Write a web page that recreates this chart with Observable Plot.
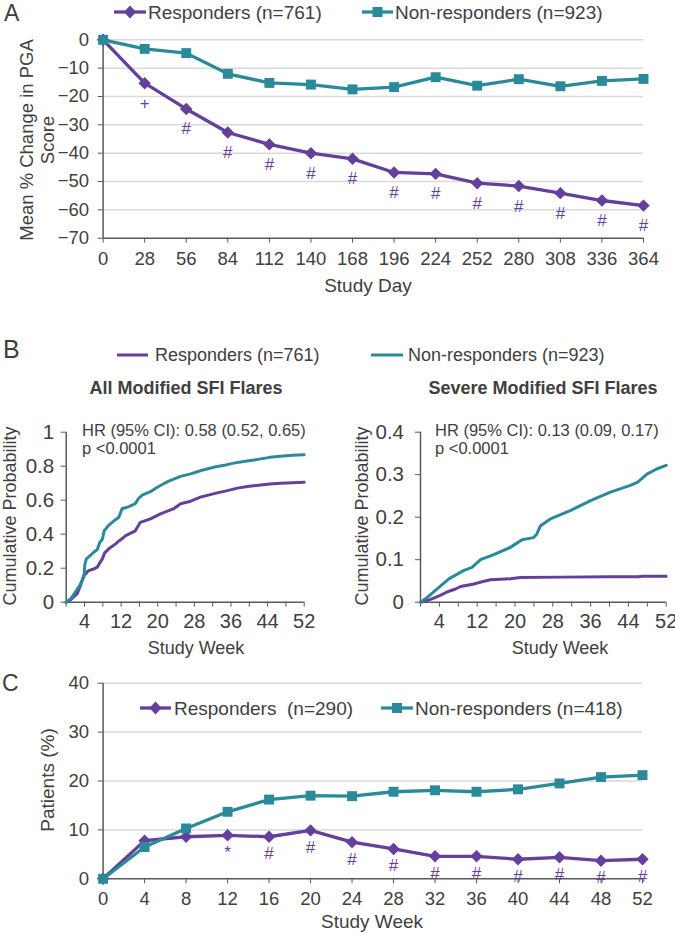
<!DOCTYPE html>
<html>
<head>
<meta charset="utf-8">
<script src="https://cdn.jsdelivr.net/npm/d3@7"></script>
<script src="https://cdn.jsdelivr.net/npm/@observablehq/plot@0.6"></script>
<style>
  html, body { margin: 0; padding: 0; background: #fff; }
  #root { position: relative; width: 675px; height: 933px; overflow: hidden; background: #fff; }
  #root > svg { position: absolute; }
</style>
</head>
<body>
<div id="root"></div>
<script>
// ---------- DATA ----------
// Panel A: mean % change in PGA score by study day
const daysA = [0, 28, 56, 84, 112, 140, 168, 196, 224, 252, 280, 308, 336, 364];
const respondersA = [0, -15.3, -24.4, -32.7, -36.9, -40.0, -42.0, -46.8, -47.3, -50.6, -51.6, -54.1, -56.7, -58.5];
const nonRespondersA = [0, -3.2, -4.7, -12.0, -15.2, -15.8, -17.5, -16.7, -13.2, -16.2, -13.9, -16.4, -14.5, -13.8];
const sigA = ["", "+", "#", "#", "#", "#", "#", "#", "#", "#", "#", "#", "#", "#"];
const yTicksA = [0, -10, -20, -30, -40, -50, -60, -70];

// Panel B: cumulative probability of flares, [week, probability]
const allFlaresResponders = [[0,0],[1,0.015],[2.4,0.05],[3.0,0.09],[3.85,0.157],[4.9,0.186],[6.0,0.195],[6.8,0.206],[7.3,0.23],[7.9,0.255],[8.4,0.29],[9.3,0.314],[10.8,0.343],[11.5,0.36],[12.2,0.373],[13,0.392],[15.1,0.42],[16.2,0.47],[18.4,0.49],[20.6,0.52],[23.5,0.55],[25,0.579],[27.2,0.594],[29.3,0.618],[33,0.643],[35,0.655],[37.4,0.671],[40,0.682],[42.5,0.69],[44.5,0.695],[46.8,0.70],[49.5,0.703],[52,0.706]];
const allFlaresNonResponders = [[0,0],[1,0.02],[2,0.06],[3,0.10],[3.9,0.15],[4.05,0.22],[4.4,0.255],[5.3,0.275],[6.0,0.294],[6.8,0.31],[7.3,0.35],[7.9,0.37],[8.3,0.42],[9.2,0.45],[10.5,0.48],[11.5,0.50],[12.2,0.55],[13.5,0.56],[15.1,0.58],[15.8,0.61],[16.6,0.63],[18.4,0.65],[19.9,0.676],[21.5,0.70],[22.8,0.716],[25,0.74],[27.2,0.755],[29.5,0.775],[32.2,0.794],[34.5,0.805],[36.6,0.818],[39.5,0.83],[42.5,0.843],[44.5,0.852],[46.8,0.859],[49.5,0.865],[52,0.868]];
const severeFlaresResponders = [[0,0],[2,0.006],[4.2,0.016],[5.6,0.024],[7.4,0.031],[8.5,0.037],[11.3,0.043],[13,0.048],[14.8,0.053],[19,0.055],[21.2,0.058],[30,0.059],[40,0.06],[46,0.06],[47,0.061],[52,0.061]];
const severeFlaresNonResponders = [[0,0],[1.5,0.012],[3.9,0.035],[6.0,0.055],[9.2,0.075],[10.9,0.082],[12.7,0.10],[15.5,0.112],[19.0,0.129],[21.5,0.147],[23.9,0.152],[24.6,0.16],[25.4,0.18],[27.5,0.196],[31.8,0.216],[36.0,0.239],[40.2,0.259],[44.4,0.275],[45.9,0.282],[48.0,0.302],[50.1,0.314],[52,0.322]];
const weekTicksB = [0, 4, 8, 12, 16, 20, 24, 28, 32, 36, 40, 44, 48, 52];
const weekLabelsB = [4, 12, 20, 28, 36, 44, 52];
const yTicksBAll = [0, 0.2, 0.4, 0.6, 0.8, 1];
const yTicksBSevere = [0, 0.1, 0.2, 0.3, 0.4];
const hrAll = ["HR (95% CI): 0.58 (0.52, 0.65)", "p <0.0001"];
const hrSevere = ["HR (95% CI): 0.13 (0.09, 0.17)", "p <0.0001"];

// Panel C: patients (%) by study week
const weeksC = [0, 4, 8, 12, 16, 20, 24, 28, 32, 36, 40, 44, 48, 52];
const respondersC = [0, 7.8, 8.6, 8.9, 8.6, 9.9, 7.5, 6.1, 4.6, 4.6, 4.0, 4.4, 3.7, 4.0];
const nonRespondersC = [0, 6.5, 10.3, 13.7, 16.2, 17.0, 16.9, 17.8, 18.1, 17.8, 18.3, 19.5, 20.8, 21.2];
const sigC = ["", "", "", "*", "#", "#", "#", "#", "#", "#", "#", "#", "#", "#"];
const yTicksC = [0, 10, 20, 30, 40];

// ---------- STYLE ----------
const PURPLE = "#643F9C";
const TEAL = "#2A8A9A";
const AXIS = "#595959";
const GRID = "#D9D9D9";
const TEXT = "#404040";
const REG = "'Liberation Sans', Arial, sans-serif";

const root = document.getElementById("root");
function place(svg, left, top) {
  svg.style.position = "absolute";
  svg.style.left = left + "px";
  svg.style.top = top + "px";
  root.appendChild(svg);
}

// ---------- PANEL A ----------
const tableA = daysA.map((d, i) => ({day: d, resp: respondersA[i], non: nonRespondersA[i], sig: sigA[i]}));
const plotA = Plot.plot({
  width: 675, height: 300,
  marginLeft: 102.6, marginRight: 32, marginTop: 39.3, marginBottom: 62.3,
  x: {domain: [0, 364]},
  y: {domain: [-70, 0]},
  style: {fontFamily: REG, fontSize: "18px", color: TEXT, background: "transparent"},
  marks: [
    Plot.gridY(yTicksA.filter(d => d > -70), {stroke: GRID, strokeOpacity: 1, strokeWidth: 1.5}),
    Plot.ruleX([0], {stroke: AXIS, strokeWidth: 1.5}),
    Plot.ruleY([-70], {stroke: AXIS, strokeWidth: 1.5}),
    Plot.axisY(yTicksA, {tickSize: 5, tickPadding: 9, label: null, stroke: AXIS, fontSize: 18.5}),
    Plot.axisX(daysA, {tickSize: 5, tickPadding: 9, label: null, stroke: AXIS, fontSize: 18.5}),
    Plot.line(tableA, {x: "day", y: "resp", stroke: PURPLE, strokeWidth: 3.3}),
    Plot.dot(tableA, {x: "day", y: "resp", symbol: "diamond2", r: 5.6, fill: PURPLE}),
    Plot.line(tableA, {x: "day", y: "non", stroke: TEAL, strokeWidth: 3.3}),
    Plot.dot(tableA, {x: "day", y: "non", symbol: "square", r: 5.6, fill: TEAL}),
    Plot.text(tableA.filter(d => d.sig), {x: "day", y: "resp", text: "sig", dy: 20, fill: PURPLE, fontSize: 17})
  ]
});
place(plotA, 0, 0);

// ---------- PANEL B ----------
function kmPlot(resp, non, yMax, yTicks, w, ml, mr, pad) {
  return Plot.plot({
    width: w, height: 260,
    marginLeft: ml, marginRight: mr, marginTop: 31.7, marginBottom: 58.3,
    x: {domain: [0, 52]},
    y: {domain: [0, yMax]},
    style: {fontFamily: REG, fontSize: "20px", color: TEXT, background: "transparent"},
    marks: [
      Plot.ruleX([0], {stroke: AXIS, strokeWidth: 1.5}),
      Plot.ruleY([0], {stroke: AXIS, strokeWidth: 1.5}),
      Plot.axisY(yTicks, {tickSize: 5, tickPadding: pad, label: null, stroke: AXIS, fontSize: 20.5,
        tickFormat: d => String(+d.toFixed(1))}),
      Plot.axisX(weekTicksB, {tickSize: 5, tickPadding: 7, label: null, stroke: AXIS, fontSize: 20,
        tickFormat: d => weekLabelsB.includes(d) ? String(d) : ""}),
      Plot.line(resp, {x: d => d[0], y: d => d[1], stroke: PURPLE, strokeWidth: 3}),
      Plot.line(non, {x: d => d[0], y: d => d[1], stroke: TEAL, strokeWidth: 3})
    ]
  });
}
place(kmPlot(allFlaresResponders, allFlaresNonResponders, 1, yTicksBAll, 337, 65.7, 33.3, 7), 0, 400);
place(kmPlot(severeFlaresResponders, severeFlaresNonResponders, 0.4, yTicksBSevere, 338, 83, 9.3, 11.5), 337, 400);

// ---------- PANEL C ----------
const tableC = weeksC.map((d, i) => ({week: d, resp: respondersC[i], non: nonRespondersC[i], sig: sigC[i]}));
const plotC = Plot.plot({
  width: 675, height: 283,
  marginLeft: 102.6, marginRight: 33, marginTop: 32.7, marginBottom: 54.7,
  x: {domain: [0, 52]},
  y: {domain: [0, 40]},
  style: {fontFamily: REG, fontSize: "18px", color: TEXT, background: "transparent"},
  marks: [
    Plot.gridY(yTicksC.filter(d => d > 0), {stroke: GRID, strokeOpacity: 1, strokeWidth: 1.5}),
    Plot.ruleX([0], {stroke: AXIS, strokeWidth: 1.5}),
    Plot.ruleY([0], {stroke: AXIS, strokeWidth: 1.5}),
    Plot.axisY(yTicksC, {tickSize: 5, tickPadding: 9, label: null, stroke: AXIS, fontSize: 18.5}),
    Plot.axisX(weeksC, {tickSize: 5, tickPadding: 8, label: null, stroke: AXIS, fontSize: 18.5}),
    Plot.line(tableC, {x: "week", y: "resp", stroke: PURPLE, strokeWidth: 3.3}),
    Plot.dot(tableC, {x: "week", y: "resp", symbol: "diamond2", r: 5.6, fill: PURPLE}),
    Plot.line(tableC, {x: "week", y: "non", stroke: TEAL, strokeWidth: 3.3}),
    Plot.dot(tableC, {x: "week", y: "non", symbol: "square", r: 5.6, fill: TEAL}),
    Plot.text(tableC.filter(d => d.sig), {x: "week", y: "resp", text: "sig", dy: 17, fill: PURPLE, fontSize: 17})
  ]
});
place(plotC, 0, 650);

// ---------- OVERLAY TEXT (letters, legends, titles) ----------
const ov = d3.create("svg").attr("width", 675).attr("height", 933)
  .style("position", "absolute").style("left", "0px").style("top", "0px")
  .style("pointer-events", "none");
function txt(x, y, s, opts = {}) {
  const t = ov.append("text").attr("x", x).attr("y", y).text(s)
    .attr("fill", opts.fill || TEXT)
    .attr("font-family", opts.family || REG)
    .attr("font-size", opts.size || 18)
    .attr("font-weight", opts.weight || "normal")
    .attr("text-anchor", opts.anchor || "start")
    .attr("dominant-baseline", "central")
    .attr("xml:space", "preserve")
    .style("white-space", "pre");
  if (opts.rotate) t.attr("transform", `rotate(-90 ${x} ${y})`);
  return t;
}
function swatch(x1, x2, y, color, symbol, w) {
  ov.append("line").attr("x1", x1).attr("x2", x2).attr("y1", y).attr("y2", y)
    .attr("stroke", color).attr("stroke-width", w || 3.3);
  const cx = (x1 + x2) / 2;
  if (symbol === "diamond") {
    ov.append("path").attr("d", `M${cx},${y - 6.5}L${cx + 6},${y}L${cx},${y + 6.5}L${cx - 6},${y}Z`).attr("fill", color);
  } else if (symbol === "square") {
    ov.append("rect").attr("x", cx - 5).attr("y", y - 5).attr("width", 10).attr("height", 10).attr("fill", color);
  }
}

// Panel A
txt(4, 13, "A", {size: 23});
swatch(114, 146, 12, PURPLE, "diamond");
txt(148, 12, "Responders (n=761)", {size: 19});
swatch(362, 393, 12, TEAL, "square");
txt(395, 12, "Non-responders (n=923)", {size: 19});
txt(26, 140, "Mean % Change in PGA", {size: 18.5, anchor: "middle", rotate: true});
txt(47, 140, "Score", {size: 18.5, anchor: "middle", rotate: true});
txt(368, 285, "Study Day", {size: 19, anchor: "middle"});

// Panel B
txt(3, 349, "B", {size: 25});
swatch(117, 148, 355, PURPLE, null, 3);
txt(155, 355, "Responders (n=761)", {size: 18});
swatch(371, 403, 355, TEAL, null, 3);
txt(408, 355, "Non-responders (n=923)", {size: 18});
txt(186, 388, "All Modified SFI Flares", {size: 18, weight: "bold", anchor: "middle"});
txt(543, 388, "Severe Modified SFI Flares", {size: 18, weight: "bold", anchor: "middle"});
txt(82, 430, hrAll[0], {size: 16.5});
txt(82, 448, hrAll[1], {size: 16.5});
txt(435, 430, hrSevere[0], {size: 16.5});
txt(435, 448, hrSevere[1], {size: 16.5});
txt(10, 516, "Cumulative Probability", {size: 18, anchor: "middle", rotate: true});
txt(362, 516, "Cumulative Probability", {size: 18, anchor: "middle", rotate: true});
txt(196, 648, "Study Week", {size: 18, anchor: "middle"});
txt(560, 648, "Study Week", {size: 18, anchor: "middle"});

// Panel C
txt(2, 683, "C", {size: 23});
swatch(140, 171, 708, PURPLE, "diamond");
txt(174, 708, "Responders  (n=290)", {size: 19});
swatch(381, 413, 708, TEAL, "square");
txt(415, 708, "Non-responders (n=418)", {size: 19});
txt(47, 780, "Patients (%)", {size: 19, anchor: "middle", rotate: true});
txt(372, 921, "Study Week", {size: 19, anchor: "middle"});

root.appendChild(ov.node());
</script>
</body>
</html>
